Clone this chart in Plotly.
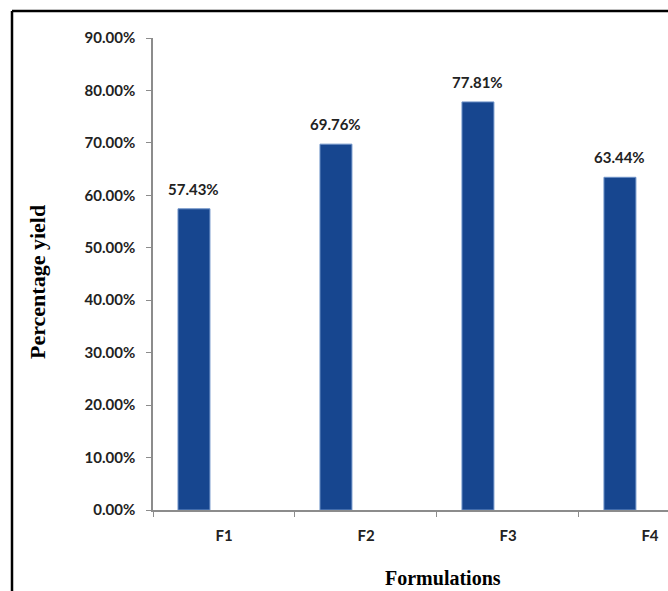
import plotly.graph_objects as go

formulations = ["F1", "F2", "F3", "F4"]
yield_pct = [57.43, 69.76, 77.81, 63.44]
y_ticks = [0, 10, 20, 30, 40, 50, 60, 70, 80, 90]
y_tick_text = [f"{v:.2f}%" for v in y_ticks]

BAR_WIDTH = 0.225
BAR_OFFSET = -0.324

label_font = dict(family="Lato, Open Sans, sans-serif", size=15, color="#222222")
title_font = dict(family="Liberation Serif, Times New Roman, serif", size=22, color="black")

fig = go.Figure(
    go.Bar(
        x=formulations,
        y=yield_pct,
        width=BAR_WIDTH,
        offset=BAR_OFFSET,
        marker=dict(color="#17468F", line=dict(color="#6F93C8", width=1)),
    )
)

# value labels centred over each bar
value_labels = [
    dict(
        x=i + BAR_OFFSET + BAR_WIDTH / 2,
        y=v,
        xref="x", yref="y",
        text=f"<b>{v:.2f}%</b>",
        showarrow=False,
        yanchor="bottom",
        yshift=9,
        font=label_font,
    )
    for i, v in enumerate(yield_pct)
]

fig.update_layout(
    width=668,
    height=591,
    margin=dict(l=153, r=0, t=38, b=81),
    plot_bgcolor="white",
    paper_bgcolor="white",
    showlegend=False,
    xaxis=dict(
        range=[-0.5, 3.127],
        showline=True,
        linecolor="#8c8c8c",
        linewidth=1.5,
        ticks="outside",
        tickson="boundaries",
        ticklen=5,
        tickcolor="#8c8c8c",
        tickfont=label_font,
        tickvals=formulations,
        ticktext=[f"<b>{f}</b>" for f in formulations],
        ticklabelstandoff=11,
        showgrid=False,
        zeroline=False,
    ),
    yaxis=dict(
        range=[0, 90],
        tickvals=y_ticks,
        ticktext=[f"<b>{t}</b>" for t in y_tick_text],
        showline=True,
        linecolor="#8c8c8c",
        linewidth=1.5,
        ticks="outside",
        ticklen=5,
        tickcolor="#8c8c8c",
        tickfont=label_font,
        ticklabelstandoff=8,
        showgrid=False,
        zeroline=False,
    ),
    annotations=value_labels + [
        dict(
            text="<b>Percentage yield</b>",
            xref="paper", yref="paper",
            x=(37 - 153) / 515, y=(510 - 282) / 472,
            xanchor="center", yanchor="middle",
            textangle=-90, showarrow=False,
            font=title_font,
        ),
        dict(
            text="<b>Formulations</b>",
            xref="paper", yref="paper",
            x=(443 - 153) / 515, y=(510 - 578) / 472,
            xanchor="center", yanchor="middle",
            showarrow=False,
            font=dict(title_font, size=20),
        ),
    ],
    shapes=[
        dict(type="line", xref="paper", yref="paper",
             x0=(12 - 153) / 515, x1=(12 - 153) / 515,
             y0=(510 - 11) / 472, y1=(510 - 600) / 472,
             line=dict(color="black", width=2.5)),
        dict(type="line", xref="paper", yref="paper",
             x0=(12 - 153) / 515, x1=(700 - 153) / 515,
             y0=(510 - 11) / 472, y1=(510 - 11) / 472,
             line=dict(color="black", width=2.5)),
    ],
)

fig.write_html("out.html")
